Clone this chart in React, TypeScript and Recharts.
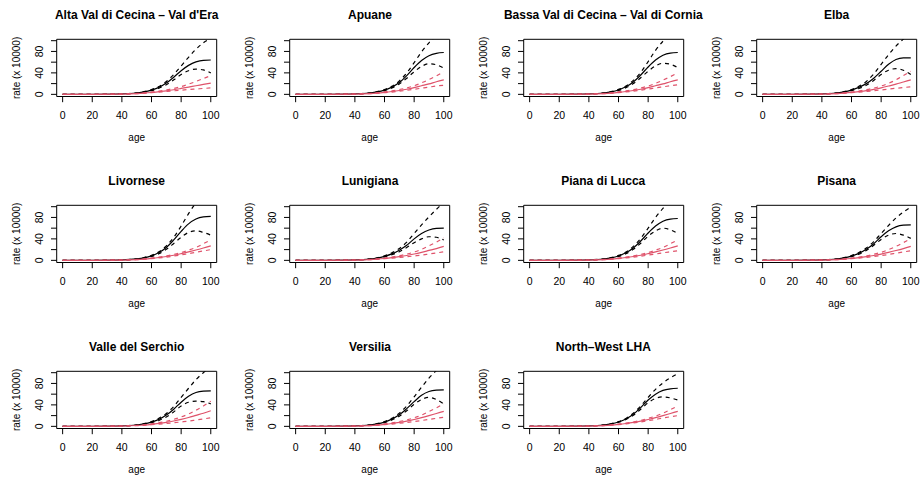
import { LineChart, Line, XAxis, YAxis, ReferenceArea } from 'recharts'

const titles = [
  'Alta Val di Cecina – Val d\'Era',
  'Apuane',
  'Bassa Val di Cecina – Val di Cornia',
  'Elba',
  'Livornese',
  'Lunigiana',
  'Piana di Lucca',
  'Pisana',
  'Valle del Serchio',
  'Versilia',
  'North–West LHA',
]

const ages = [0, 20, 40, 50, 55, 60, 65, 70, 75, 80, 85, 90, 95, 100]
const xTicks = [0, 20, 40, 60, 80, 100]
const yTicks = [0, 20, 40, 60, 80, 100]

// black: estimate and dashed bounds
const blackMid = [
  [0, 0.1, 0.8, 2.5, 4.5, 8, 13, 21, 32, 44, 54, 60.5, 63.5, 64],
  [0, 0.1, 0.8, 2.5, 4.5, 8, 13.5, 22, 35, 50, 63, 72, 76.5, 78],
  [0, 0.1, 0.8, 2.5, 4.6, 8.2, 14, 23, 36, 51, 64, 73, 77, 78],
  [0, 0.1, 0.8, 2.5, 4.5, 8, 13, 20, 30, 43, 56, 65, 68, 68],
  [0, 0.1, 0.8, 2.6, 4.7, 8.4, 14.5, 24, 38, 54, 68, 77, 81, 82],
  [0, 0.1, 0.8, 2.4, 4.3, 7.5, 12, 19, 28, 40, 50, 56.5, 59.5, 60],
  [0, 0.1, 0.8, 2.5, 4.6, 8.2, 14, 23, 36, 51, 64, 73, 77, 78],
  [0, 0.1, 0.8, 2.5, 4.5, 8, 13, 20.5, 31, 44, 55, 62.5, 65.5, 66],
  [0, 0.1, 0.8, 2.5, 4.5, 8, 13, 21, 32, 45, 56, 63, 65.5, 66],
  [0, 0.1, 0.8, 2.5, 4.5, 8, 13.5, 21.5, 33, 46, 58, 65, 67.5, 68],
  [0, 0.1, 0.8, 2.5, 4.6, 8.2, 13.8, 22.5, 35, 49, 60, 67, 70, 71],
]
const blackHi = [
  [0, 0.1, 0.9, 2.8, 5, 9, 14.5, 24, 37, 53, 69, 84, 96, 104],
  [0, 0.1, 0.9, 2.8, 5, 9, 15, 25, 40, 59, 79, 96, 110, 122],
  [0, 0.1, 0.9, 2.8, 5.2, 9.3, 15.5, 26, 41, 61, 82, 99, 113, 125],
  [0, 0.1, 0.9, 2.8, 5, 9, 15, 24, 38, 56, 74, 90, 103, 114],
  [0, 0.1, 0.9, 2.9, 5.3, 9.5, 16, 27, 43, 64, 87, 107, 122, 134],
  [0, 0.1, 0.9, 2.7, 4.8, 8.5, 14, 22, 34, 50, 66, 81, 95, 108],
  [0, 0.1, 0.9, 2.8, 5.1, 9.2, 15.5, 26, 41, 60, 80, 97, 111, 123],
  [0, 0.1, 0.9, 2.8, 5, 9, 14.5, 23, 35, 50, 65, 79, 90, 99],
  [0, 0.1, 0.9, 2.8, 5, 9, 15, 24, 37, 54, 71, 87, 100, 111],
  [0, 0.1, 0.9, 2.8, 5, 9, 15, 24.5, 38, 55, 73, 90, 104, 116],
  [0, 0.1, 0.85, 2.7, 4.9, 8.8, 14.8, 24.5, 38, 54, 69, 81, 90.5, 98],
]
const blackLo = [
  [0, 0.1, 0.7, 2.2, 4, 7, 11.5, 18, 27, 37, 44, 47, 45.5, 40],
  [0, 0.1, 0.7, 2.2, 4, 7, 12, 19.5, 30, 42, 52, 57, 55, 49],
  [0, 0.1, 0.7, 2.2, 4.1, 7.2, 12.5, 20, 31, 43, 53, 58, 56, 50],
  [0, 0.1, 0.7, 2.2, 4, 7, 11, 17, 26, 37, 45, 48, 45, 37],
  [0, 0.1, 0.7, 2.3, 4.1, 7.3, 12.5, 20.5, 31.5, 43, 52, 55, 52, 47],
  [0, 0.1, 0.7, 2.1, 3.8, 6.5, 10.5, 16, 24, 33, 40, 44, 43, 38],
  [0, 0.1, 0.7, 2.2, 4.1, 7.3, 12.5, 20.5, 32, 45, 55, 60, 57, 50],
  [0, 0.1, 0.7, 2.2, 4, 7, 11.5, 18.5, 28, 39, 47, 50, 47, 41],
  [0, 0.1, 0.7, 2.2, 4, 7, 11, 17.5, 27, 38, 45, 47, 46, 42],
  [0, 0.1, 0.7, 2.2, 4, 7, 12, 19, 29, 41, 50, 54, 50, 42],
  [0, 0.1, 0.75, 2.3, 4.3, 7.6, 12.8, 20.5, 32, 44, 52, 55, 53, 49],
]

// red: estimate and dashed bounds
const redMid = [
  [0, 0.1, 0.6, 1.5, 2.3, 3.5, 5, 6.6, 8.6, 11, 13.5, 16, 18.5, 21],
  [0, 0.1, 0.6, 1.5, 2.4, 3.7, 5.3, 7.2, 9.5, 12.5, 16, 19.5, 23.5, 27],
  [0, 0.1, 0.6, 1.5, 2.4, 3.7, 5.3, 7.2, 9.5, 12.5, 16, 19.5, 23.5, 27],
  [0, 0.1, 0.6, 1.5, 2.4, 3.6, 5.2, 7, 9.3, 12.2, 15.5, 19, 23, 27],
  [0, 0.1, 0.6, 1.5, 2.4, 3.7, 5.3, 7.2, 9.5, 12.5, 15.8, 19.3, 23, 27],
  [0, 0.1, 0.6, 1.5, 2.3, 3.5, 5, 6.8, 9, 11.8, 15, 18.5, 22, 26],
  [0, 0.1, 0.6, 1.5, 2.4, 3.7, 5.3, 7.2, 9.5, 12.5, 15.8, 19.3, 23, 27],
  [0, 0.1, 0.6, 1.5, 2.3, 3.5, 5, 6.8, 9, 11.7, 14.8, 18.3, 22, 26],
  [0, 0.1, 0.6, 1.6, 2.5, 3.8, 5.5, 7.5, 10, 13, 16.5, 20.5, 24.5, 29],
  [0, 0.1, 0.6, 1.5, 2.4, 3.7, 5.3, 7.3, 9.8, 12.8, 16.2, 20, 24, 28],
  [0, 0.1, 0.6, 1.5, 2.4, 3.7, 5.3, 7.3, 9.8, 12.8, 16.2, 20, 24, 28],
]
const redHi = [
  [0, 0.1, 0.7, 1.8, 2.8, 4.3, 6, 8.2, 11, 14.5, 19, 24, 29.5, 35],
  [0, 0.1, 0.7, 1.8, 2.9, 4.5, 6.5, 9, 12, 16, 21.5, 27.5, 34.5, 42],
  [0, 0.1, 0.7, 1.8, 2.9, 4.5, 6.4, 8.8, 11.8, 15.5, 20.5, 26.5, 33, 40],
  [0, 0.1, 0.7, 1.8, 2.9, 4.4, 6.3, 8.7, 11.7, 15.5, 20.5, 27, 35, 43],
  [0, 0.1, 0.7, 1.7, 2.8, 4.3, 6.2, 8.4, 11.2, 14.6, 19, 24, 31, 38],
  [0, 0.1, 0.7, 1.8, 2.9, 4.4, 6.3, 8.7, 11.7, 15.5, 20.5, 27, 34, 42],
  [0, 0.1, 0.7, 1.7, 2.8, 4.3, 6.2, 8.4, 11.2, 14.6, 19, 24, 31, 38],
  [0, 0.1, 0.7, 1.8, 2.8, 4.3, 6.1, 8.4, 11.3, 15, 20, 26, 33, 41],
  [0, 0.1, 0.7, 1.9, 3, 4.7, 6.8, 9.5, 13, 17.5, 23, 30, 38, 47],
  [0, 0.1, 0.7, 1.8, 2.9, 4.5, 6.5, 9, 12, 16, 21, 27.5, 34.5, 42],
  [0, 0.1, 0.65, 1.7, 2.7, 4.2, 6, 8.3, 11.2, 14.8, 19.2, 24.5, 31, 38],
]
const redLo = [
  [0, 0.1, 0.5, 1.3, 2, 3, 4.2, 5.3, 6.6, 7.8, 9, 10, 11, 12],
  [0, 0.1, 0.5, 1.3, 2, 3.1, 4.3, 5.8, 7.5, 9.5, 11.5, 13.5, 15.5, 17],
  [0, 0.1, 0.5, 1.3, 2.1, 3.2, 4.5, 6, 7.8, 9.8, 12, 14, 16, 18],
  [0, 0.1, 0.5, 1.3, 2, 3, 4.1, 5.3, 6.7, 8.2, 9.8, 11.3, 12.7, 14],
  [0, 0.1, 0.5, 1.3, 2.1, 3.2, 4.5, 6.1, 8, 10.2, 12.6, 15, 17.5, 20],
  [0, 0.1, 0.5, 1.3, 2, 3, 4.1, 5.3, 6.7, 8.2, 9.8, 11.8, 13.8, 16],
  [0, 0.1, 0.5, 1.3, 2.1, 3.2, 4.5, 6, 7.8, 9.8, 11.8, 14, 16, 18],
  [0, 0.1, 0.5, 1.3, 2, 3, 4.2, 5.6, 7.2, 9, 11, 13.3, 15.6, 18],
  [0, 0.1, 0.5, 1.3, 2, 3, 4.1, 5.3, 6.7, 8.2, 9.8, 11.8, 13.8, 16],
  [0, 0.1, 0.5, 1.3, 2, 3.1, 4.3, 5.7, 7.3, 9, 10.9, 12.9, 15, 17],
  [0, 0.1, 0.55, 1.4, 2.2, 3.3, 4.7, 6.3, 8.3, 10.6, 13, 15.5, 17.8, 20],
]

const FONT = '"Liberation Sans", Arial, Helvetica, sans-serif'
const RED = '#DF536B'
const COL_W = 233.3
const ROW_H = 166
const W = 233
const H = 166
const X_DOMAIN: [number, number] = [-4, 104]
const Y_DOMAIN: [number, number] = [-4, 102.6]

function YTick(props: any) {
  const { x, y, payload } = props
  if (payload.value % 40 !== 0) return null
  return (
    <text
      x={x}
      y={y}
      transform={`rotate(-90 ${x} ${y})`}
      textAnchor="middle"
      fontSize={10.5}
      fill="#000"
    >
      {payload.value}
    </text>
  )
}

// viewBox here is the y axis strip (left of the plot box)
function YLabel(props: any) {
  const { viewBox } = props
  const cx = viewBox.x + 16.7
  const cy = viewBox.y + viewBox.height / 2
  return (
    <text
      x={cx}
      y={cy}
      transform={`rotate(-90 ${cx} ${cy})`}
      textAnchor="middle"
      dominantBaseline="central"
      fontSize={10}
      fill="#000"
    >
      rate (x 10000)
    </text>
  )
}

// viewBox here is the x axis strip (below the plot box)
function XLabel(props: any) {
  const { viewBox } = props
  const cx = viewBox.x + viewBox.width / 2
  return (
    <text x={cx} y={viewBox.y + 44.5} textAnchor="middle" fontSize={10} fill="#000">
      age
    </text>
  )
}

function Panel({ index }: { index: number }) {
  const data = ages.map((age, i) => ({
    age,
    bm: blackMid[index][i],
    bh: blackHi[index][i],
    bl: blackLo[index][i],
    rm: redMid[index][i],
    rh: redHi[index][i],
    rl: redLo[index][i],
  }))
  const col = index % 4
  const row = Math.floor(index / 4)
  return (
    <div style={{ position: 'absolute', left: col * COL_W, top: row * ROW_H, width: W, height: H }}>
      <div
        style={{
          position: 'absolute',
          left: 56.7,
          width: 160,
          top: 8.1,
          lineHeight: '14px',
          fontSize: 12,
          fontWeight: 'bold',
          whiteSpace: 'nowrap',
          display: 'flex',
          justifyContent: 'center',
        }}
      >
        {titles[index]}
      </div>
      <LineChart width={W} height={H} data={data} margin={{ top: 39.3, right: 16.3, bottom: 39.5, left: 0 }}>
        <XAxis
          dataKey="age"
          type="number"
          domain={X_DOMAIN}
          ticks={xTicks}
          interval={0}
          allowDataOverflow
          axisLine={false}
          tickLine={{ stroke: '#000' }}
          tickSize={5.7}
          tickMargin={9}
          height={30}
          tick={{ fill: '#000', fontSize: 10.5 }}
          label={<XLabel />}
        />
        <YAxis
          type="number"
          domain={Y_DOMAIN}
          ticks={yTicks}
          interval={0}
          allowDataOverflow
          axisLine={false}
          tickLine={{ stroke: '#000' }}
          tickSize={5.7}
          tickMargin={7.5}
          width={56.7}
          tick={<YTick />}
          label={<YLabel />}
        />
        <ReferenceArea
          x1={X_DOMAIN[0]}
          x2={X_DOMAIN[1]}
          y1={Y_DOMAIN[0]}
          y2={Y_DOMAIN[1]}
          fill="none"
          stroke="#000"
          strokeWidth={1}
        />
        <Line dataKey="bh" type="monotone" stroke="#000" strokeWidth={1.2} strokeDasharray="4 4" dot={false} isAnimationActive={false} />
        <Line dataKey="bl" type="monotone" stroke="#000" strokeWidth={1.2} strokeDasharray="4 4" dot={false} isAnimationActive={false} />
        <Line dataKey="bm" type="monotone" stroke="#000" strokeWidth={1.2} dot={false} isAnimationActive={false} />
        <Line dataKey="rh" type="monotone" stroke={RED} strokeWidth={1.2} strokeDasharray="4 4" dot={false} isAnimationActive={false} />
        <Line dataKey="rl" type="monotone" stroke={RED} strokeWidth={1.2} strokeDasharray="4 4" dot={false} isAnimationActive={false} />
        <Line dataKey="rm" type="monotone" stroke={RED} strokeWidth={1.2} dot={false} isAnimationActive={false} />
      </LineChart>
    </div>
  )
}

export default function App() {
  return (
    <div
      style={{
        position: 'absolute',
        left: 0,
        top: 0,
        width: 921,
        height: 480,
        overflow: 'hidden',
        background: '#fff',
        fontFamily: FONT,
      }}
    >
      {titles.map((_, i) => (
        <Panel key={i} index={i} />
      ))}
    </div>
  )
}
